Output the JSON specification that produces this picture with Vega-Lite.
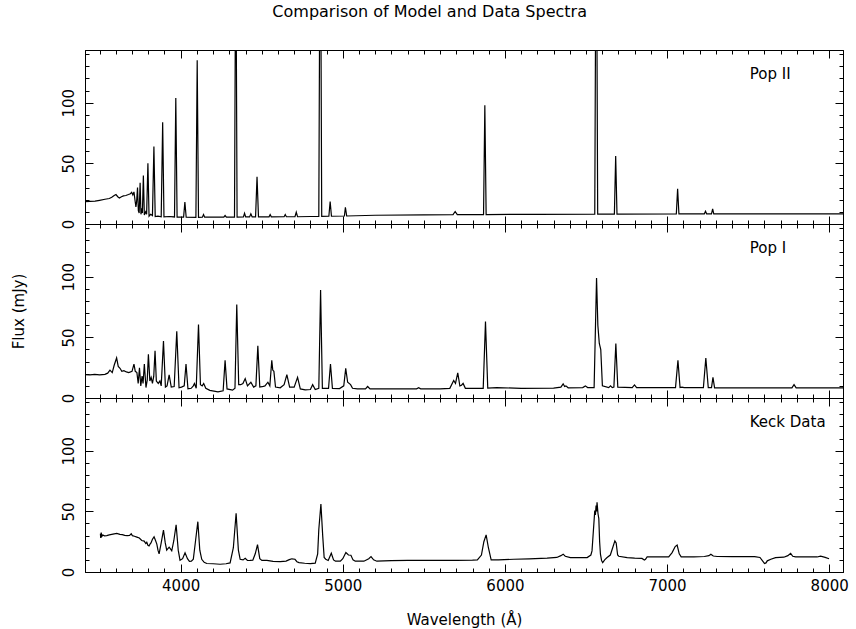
{
"$schema": "https://vega.github.io/schema/vega-lite/v6.json",
"autosize": {"type": "pad"},
"padding": {"left": 10, "top": 4, "right": 12, "bottom": 0},
"spacing": 0,
"bounds": "flush",
"title": {"text": "Comparison of Model and Data Spectra", "anchor": "middle", "offset": 29, "fontSize": 16, "fontWeight": "normal", "font": "DejaVu Sans", "color": "black"},
"config": {
  "view": {"stroke": "black", "strokeWidth": 1},
  "axis": {"domainColor": "black", "tickColor": "black", "labelColor": "black", "titleColor": "black", "labelFont": "DejaVu Sans", "titleFont": "DejaVu Sans", "labelFontSize": 15, "titleFontSize": 15, "titleFontWeight": "normal", "grid": false, "tickWidth": 1, "domainWidth": 1}
},
"datasets": {
"labels": [
  {"panel": "Pop II", "w": 7510, "f": 124},
  {"panel": "Pop I", "w": 7510, "f": 124},
  {"panel": "Keck Data", "w": 7510, "f": 124}
],
"pop2": [
{"w":3410,"f":18.5},{"w":3440,"f":18.6},{"w":3472,"f":18.8},{"w":3500,"f":19.5},{"w":3533,"f":20.4},{"w":3560,"f":21.0},{"w":3575,"f":22.0},{"w":3590,"f":23.5},{"w":3601,"f":24.3},{"w":3612,"f":22.5},{"w":3622,"f":21.5},{"w":3635,"f":22.5},{"w":3647,"f":23.2},{"w":3662,"f":23.5},{"w":3678,"f":24.3},{"w":3690,"f":25.0},{"w":3698,"f":26.2},{"w":3705,"f":24.0},{"w":3712,"f":26.5},{"w":3718,"f":20},{"w":3724,"f":14},{"w":3728,"f":18},{"w":3734,"f":30},{"w":3739,"f":11},{"w":3744,"f":9},{"w":3750,"f":34},{"w":3755,"f":8},{"w":3760,"f":13},{"w":3764,"f":9},{"w":3770,"f":40},{"w":3776,"f":7.5},{"w":3784,"f":10},{"w":3790,"f":8},{"w":3798,"f":50},{"w":3805,"f":6.5},{"w":3815,"f":8},{"w":3826,"f":7},{"w":3835,"f":64},{"w":3843,"f":6.2},{"w":3860,"f":6.5},{"w":3880,"f":6.0},{"w":3889,"f":84},{"w":3897,"f":5.8},{"w":3930,"f":6.2},{"w":3962,"f":5.8},{"w":3970,"f":104},{"w":3978,"f":5.6},{"w":4018,"f":5.6},{"w":4026,"f":18},{"w":4034,"f":5.6},{"w":4094,"f":5.5},{"w":4102,"f":135},{"w":4110,"f":5.5},{"w":4134,"f":5.6},{"w":4141,"f":7.8},{"w":4148,"f":5.6},{"w":4266,"f":5.6},{"w":4274,"f":7},{"w":4282,"f":5.6},{"w":4332,"f":5.6},{"w":4340,"f":250},{"w":4348,"f":5.6},{"w":4387,"f":5.8},{"w":4394,"f":8.9},{"w":4401,"f":5.8},{"w":4425,"f":5.8},{"w":4433,"f":8.4},{"w":4441,"f":5.8},{"w":4462,"f":5.8},{"w":4471,"f":39},{"w":4480,"f":5.8},{"w":4545,"f":5.9},{"w":4552,"f":7.8},{"w":4559,"f":5.9},{"w":4638,"f":6.0},{"w":4645,"f":7.8},{"w":4652,"f":6.0},{"w":4705,"f":6.0},{"w":4713,"f":9.7},{"w":4721,"f":6.0},{"w":4800,"f":6.2},{"w":4852,"f":6.3},{"w":4861,"f":300},{"w":4870,"f":6.3},{"w":4914,"f":6.4},{"w":4922,"f":18.5},{"w":4930,"f":6.4},{"w":5010,"f":6.6},{"w":5016,"f":13.8},{"w":5024,"f":6.6},{"w":5200,"f":7.2},{"w":5500,"f":7.5},{"w":5680,"f":7.7},{"w":5693,"f":10.3},{"w":5706,"f":7.7},{"w":5868,"f":7.8},{"w":5876,"f":98},{"w":5884,"f":7.8},{"w":6200,"f":8.0},{"w":6554,"f":8.2},{"w":6563,"f":300},{"w":6572,"f":8.2},{"w":6675,"f":8.2},{"w":6683,"f":56},{"w":6691,"f":8.2},{"w":7057,"f":8.3},{"w":7065,"f":29},{"w":7073,"f":8.3},{"w":7230,"f":8.4},{"w":7237,"f":10.5},{"w":7244,"f":8.4},{"w":7274,"f":8.4},{"w":7281,"f":12.5},{"w":7288,"f":8.4},{"w":8085,"f":8.4}
],
"pop1": [
{"w":3410,"f":19.3},{"w":3440,"f":19.0},{"w":3470,"f":19.5},{"w":3500,"f":19.0},{"w":3533,"f":19.5},{"w":3550,"f":20.5},{"w":3564,"f":23.0},{"w":3578,"f":21.0},{"w":3590,"f":27.0},{"w":3605,"f":33.0},{"w":3615,"f":26.0},{"w":3626,"f":24.5},{"w":3637,"f":22.0},{"w":3650,"f":22.5},{"w":3665,"f":21.5},{"w":3680,"f":21.0},{"w":3700,"f":22.0},{"w":3712,"f":28.0},{"w":3720,"f":22.0},{"w":3730,"f":21.0},{"w":3738,"f":12.0},{"w":3746,"f":25.0},{"w":3754,"f":10.0},{"w":3762,"f":18.0},{"w":3768,"f":12.0},{"w":3776,"f":28.0},{"w":3786,"f":8.6},{"w":3794,"f":15},{"w":3801,"f":36.0},{"w":3810,"f":14.0},{"w":3818,"f":17.0},{"w":3826,"f":12.0},{"w":3834,"f":18},{"w":3842,"f":39.0},{"w":3850,"f":14.0},{"w":3862,"f":12.0},{"w":3872,"f":14},{"w":3880,"f":10},{"w":3894,"f":47.0},{"w":3906,"f":9.0},{"w":3916,"f":10},{"w":3929,"f":19.0},{"w":3942,"f":9.0},{"w":3960,"f":9.5},{"w":3976,"f":55.0},{"w":3990,"f":8.4},{"w":4005,"f":9},{"w":4022,"f":10},{"w":4033,"f":28.0},{"w":4045,"f":7.5},{"w":4065,"f":8},{"w":4078,"f":10},{"w":4085,"f":12.0},{"w":4096,"f":8},{"w":4110,"f":60.5},{"w":4122,"f":11.0},{"w":4133,"f":10},{"w":4142,"f":12.0},{"w":4155,"f":8},{"w":4180,"f":6.3},{"w":4230,"f":5.0},{"w":4262,"f":6},{"w":4274,"f":31.0},{"w":4286,"f":7.5},{"w":4320,"f":6.5},{"w":4335,"f":8},{"w":4346,"f":77.0},{"w":4358,"f":11.0},{"w":4370,"f":11},{"w":4384,"f":12},{"w":4398,"f":16.0},{"w":4412,"f":10.0},{"w":4433,"f":13.0},{"w":4450,"f":9.0},{"w":4464,"f":10},{"w":4476,"f":43.0},{"w":4488,"f":9.0},{"w":4510,"f":9.6},{"w":4520,"f":10},{"w":4538,"f":13.0},{"w":4550,"f":10.0},{"w":4562,"f":31.0},{"w":4568,"f":23.0},{"w":4575,"f":22},{"w":4585,"f":9.0},{"w":4614,"f":8.4},{"w":4638,"f":11},{"w":4655,"f":19.3},{"w":4672,"f":9.0},{"w":4700,"f":9},{"w":4721,"f":17.0},{"w":4738,"f":7.5},{"w":4768,"f":6.7},{"w":4800,"f":7},{"w":4814,"f":11.0},{"w":4830,"f":7.0},{"w":4852,"f":8},{"w":4863,"f":89.0},{"w":4874,"f":8.0},{"w":4912,"f":8},{"w":4924,"f":28.0},{"w":4936,"f":8.0},{"w":4980,"f":7.8},{"w":5006,"f":10},{"w":5018,"f":24.4},{"w":5030,"f":13.0},{"w":5048,"f":11.0},{"w":5060,"f":8},{"w":5090,"f":7.5},{"w":5140,"f":7.6},{"w":5153,"f":9.5},{"w":5168,"f":7.5},{"w":5300,"f":7.5},{"w":5455,"f":7.6},{"w":5468,"f":8.5},{"w":5480,"f":7.6},{"w":5600,"f":7.6},{"w":5660,"f":8.0},{"w":5684,"f":14.4},{"w":5695,"f":12.0},{"w":5709,"f":20.8},{"w":5722,"f":9.9},{"w":5732,"f":10.5},{"w":5742,"f":12.0},{"w":5756,"f":8.0},{"w":5866,"f":8.0},{"w":5880,"f":63.0},{"w":5894,"f":8.2},{"w":5950,"f":8.5},{"w":6100,"f":8.0},{"w":6300,"f":8.2},{"w":6345,"f":9.0},{"w":6359,"f":11.7},{"w":6368,"f":9.5},{"w":6376,"f":10},{"w":6390,"f":8.4},{"w":6480,"f":8.6},{"w":6496,"f":10.0},{"w":6510,"f":8.6},{"w":6550,"f":8.6},{"w":6565,"f":99.0},{"w":6573,"f":60},{"w":6582,"f":45.0},{"w":6591,"f":40},{"w":6601,"f":10.0},{"w":6640,"f":8.6},{"w":6651,"f":10.0},{"w":6662,"f":8.6},{"w":6672,"f":9},{"w":6684,"f":45.0},{"w":6696,"f":9.0},{"w":6785,"f":8.6},{"w":6799,"f":10.8},{"w":6812,"f":8.6},{"w":7052,"f":8.6},{"w":7067,"f":31.0},{"w":7080,"f":8.6},{"w":7092,"f":9.0},{"w":7105,"f":8.5},{"w":7224,"f":8.6},{"w":7239,"f":33.0},{"w":7254,"f":8.6},{"w":7274,"f":8.6},{"w":7283,"f":17.0},{"w":7293,"f":8.4},{"w":7600,"f":8.4},{"w":7770,"f":8.4},{"w":7783,"f":11.0},{"w":7796,"f":8.4},{"w":8085,"f":8.4}
],
"keck": [
{"w":3505,"f":31.5},{"w":3507,"f":28.0},{"w":3510,"f":32.5},{"w":3514,"f":29.5},{"w":3520,"f":30.5},{"w":3530,"f":29.8},{"w":3544,"f":30.0},{"w":3560,"f":30.6},{"w":3575,"f":31.0},{"w":3590,"f":31.4},{"w":3606,"f":31.8},{"w":3625,"f":31.0},{"w":3640,"f":30.8},{"w":3655,"f":30.2},{"w":3670,"f":30.0},{"w":3685,"f":30.2},{"w":3695,"f":31.5},{"w":3702,"f":30.0},{"w":3715,"f":29.5},{"w":3730,"f":28.8},{"w":3745,"f":28.0},{"w":3760,"f":26.0},{"w":3775,"f":25.5},{"w":3785,"f":23.5},{"w":3791,"f":24.5},{"w":3798,"f":22},{"w":3805,"f":21.5},{"w":3811,"f":23},{"w":3817,"f":24.0},{"w":3826,"f":27},{"w":3836,"f":29.0},{"w":3845,"f":26},{"w":3853,"f":23.0},{"w":3860,"f":18},{"w":3867,"f":15.0},{"w":3880,"f":24},{"w":3894,"f":34.5},{"w":3905,"f":24},{"w":3914,"f":18.0},{"w":3920,"f":19},{"w":3929,"f":20.5},{"w":3937,"f":19},{"w":3945,"f":17.5},{"w":3958,"f":26},{"w":3972,"f":39.0},{"w":3985,"f":18},{"w":3996,"f":9.6},{"w":4012,"f":11},{"w":4027,"f":15.8},{"w":4042,"f":11},{"w":4054,"f":8.8},{"w":4066,"f":9},{"w":4078,"f":10.5},{"w":4092,"f":26},{"w":4106,"f":41.5},{"w":4118,"f":18},{"w":4130,"f":10.5},{"w":4145,"f":8},{"w":4161,"f":7.0},{"w":4200,"f":6.8},{"w":4243,"f":6.4},{"w":4280,"f":6.8},{"w":4305,"f":7.5},{"w":4325,"f":20},{"w":4342,"f":48.4},{"w":4356,"f":18},{"w":4367,"f":10.5},{"w":4385,"f":10},{"w":4398,"f":11.3},{"w":4412,"f":9.5},{"w":4428,"f":9.6},{"w":4445,"f":9.8},{"w":4460,"f":15},{"w":4474,"f":22.5},{"w":4488,"f":11},{"w":4501,"f":9.6},{"w":4532,"f":9.6},{"w":4570,"f":8.8},{"w":4614,"f":8.6},{"w":4650,"f":9},{"w":4670,"f":10.2},{"w":4686,"f":10.9},{"w":4705,"f":10.5},{"w":4717,"f":8.5},{"w":4730,"f":7.7},{"w":4765,"f":7.2},{"w":4800,"f":6.9},{"w":4830,"f":7.3},{"w":4845,"f":15},{"w":4852,"f":35},{"w":4865,"f":56.0},{"w":4876,"f":30},{"w":4885,"f":12},{"w":4895,"f":10.5},{"w":4910,"f":9.5},{"w":4929,"f":15.5},{"w":4943,"f":10},{"w":4955,"f":8.9},{"w":4985,"f":8.9},{"w":5000,"f":11},{"w":5019,"f":16.0},{"w":5035,"f":14},{"w":5050,"f":13.8},{"w":5063,"f":10},{"w":5077,"f":8.9},{"w":5130,"f":8.9},{"w":5160,"f":11},{"w":5174,"f":12.7},{"w":5190,"f":10},{"w":5210,"f":8.9},{"w":5300,"f":9.3},{"w":5400,"f":9.6},{"w":5550,"f":9.6},{"w":5700,"f":9.6},{"w":5800,"f":9.8},{"w":5830,"f":10.0},{"w":5855,"f":14},{"w":5870,"f":25},{"w":5884,"f":30.6},{"w":5898,"f":20},{"w":5915,"f":10.0},{"w":5960,"f":10},{"w":6055,"f":10.5},{"w":6150,"f":10.8},{"w":6260,"f":11.4},{"w":6320,"f":12},{"w":6345,"f":13.5},{"w":6359,"f":14.7},{"w":6372,"f":13},{"w":6404,"f":11.9},{"w":6460,"f":11.8},{"w":6507,"f":11.9},{"w":6530,"f":14},{"w":6537,"f":17.4},{"w":6546,"f":35},{"w":6554,"f":50.6},{"w":6558,"f":47},{"w":6562,"f":54.8},{"w":6565,"f":50},{"w":6568,"f":57.5},{"w":6574,"f":48},{"w":6579,"f":44.0},{"w":6584,"f":25},{"w":6589,"f":14.7},{"w":6596,"f":9.5},{"w":6603,"f":7.7},{"w":6615,"f":10},{"w":6630,"f":11.9},{"w":6650,"f":14},{"w":6665,"f":20.2},{"w":6678,"f":25.7},{"w":6686,"f":24},{"w":6695,"f":14},{"w":6702,"f":13.0},{"w":6754,"f":11.9},{"w":6800,"f":11.4},{"w":6845,"f":11.2},{"w":6860,"f":9.8},{"w":6867,"f":10.5},{"w":6877,"f":12.4},{"w":6959,"f":12.5},{"w":7010,"f":12.5},{"w":7031,"f":16.0},{"w":7050,"f":21},{"w":7062,"f":22.2},{"w":7075,"f":15},{"w":7087,"f":12.5},{"w":7165,"f":12.5},{"w":7230,"f":12.8},{"w":7258,"f":13.5},{"w":7270,"f":14.7},{"w":7285,"f":13.2},{"w":7309,"f":12.8},{"w":7400,"f":12.6},{"w":7474,"f":12.8},{"w":7540,"f":12.6},{"w":7573,"f":12.0},{"w":7590,"f":9},{"w":7601,"f":7.0},{"w":7610,"f":7.5},{"w":7618,"f":9.2},{"w":7640,"f":10.5},{"w":7669,"f":11.9},{"w":7720,"f":12.2},{"w":7745,"f":13.5},{"w":7762,"f":15.4},{"w":7775,"f":13},{"w":7793,"f":12.5},{"w":7840,"f":12.4},{"w":7885,"f":12.5},{"w":7925,"f":12.4},{"w":7947,"f":13.0},{"w":7975,"f":12},{"w":7999,"f":10.9}
]
},
"vconcat": [
{
  "width": 758, "height": 174,
  "layer": [
    {"data": {"name": "pop2"}, "mark": {"type": "line", "color": "black", "strokeWidth": 1.2, "clip": true},
     "encoding": {
       "x": {"field": "w", "type": "quantitative", "scale": {"domain": [3410, 8085], "nice": false, "zero": false},
             "axis": {"orient": "bottom", "title": null, "labels": false, "values": [3500,3600,3700,3800,3900,4000,4100,4200,4300,4400,4500,4600,4700,4800,4900,5000,5100,5200,5300,5400,5500,5600,5700,5800,5900,6000,6100,6200,6300,6400,6500,6600,6700,6800,6900,7000,7100,7200,7300,7400,7500,7600,7700,7800,7900,8000], "tickSize": {"condition": {"test": "datum.value % 1000 === 0", "value": -8}, "value": -4}}},
       "y": {"field": "f", "type": "quantitative", "scale": {"domain": [0, 143.5], "nice": false},
             "axis": {"orient": "left", "title": null, "values": [0,10,20,30,40,50,60,70,80,90,100,110,120,130,140], "labelExpr": "datum.value % 50 === 0 ? datum.label : ''", "labelAngle": -90, "labelAlign": "center", "labelBaseline": "bottom", "labelPadding": 17, "tickSize": {"condition": {"test": "datum.value % 50 === 0", "value": -8}, "value": -4}}}
     }},
    {"data": {"name": "labels"}, "transform": [{"filter": "datum.panel === 'Pop II'"}],
     "mark": {"type": "text", "align": "left", "baseline": "middle", "fontSize": 15, "font": "DejaVu Sans", "color": "black"},
     "encoding": {
       "x": {"field": "w", "type": "quantitative", "axis": {"orient": "top", "title": null, "labels": false, "values": [3500,3600,3700,3800,3900,4000,4100,4200,4300,4400,4500,4600,4700,4800,4900,5000,5100,5200,5300,5400,5500,5600,5700,5800,5900,6000,6100,6200,6300,6400,6500,6600,6700,6800,6900,7000,7100,7200,7300,7400,7500,7600,7700,7800,7900,8000], "tickSize": {"condition": {"test": "datum.value % 1000 === 0", "value": -8}, "value": -4}}},
       "y": {"field": "f", "type": "quantitative", "axis": {"orient": "right", "title": null, "labels": false, "values": [0,10,20,30,40,50,60,70,80,90,100,110,120,130,140], "tickSize": {"condition": {"test": "datum.value % 50 === 0", "value": -8}, "value": -4}}},
       "text": {"field": "panel"}
     }}
  ],
  "resolve": {"axis": {"x": "independent", "y": "independent"}}
},
{
  "width": 758, "height": 174,
  "layer": [
    {"data": {"name": "pop1"}, "mark": {"type": "line", "color": "black", "strokeWidth": 1.2, "clip": true},
     "encoding": {
       "x": {"field": "w", "type": "quantitative", "scale": {"domain": [3410, 8085], "nice": false, "zero": false},
             "axis": {"orient": "bottom", "title": null, "labels": false, "values": [3500,3600,3700,3800,3900,4000,4100,4200,4300,4400,4500,4600,4700,4800,4900,5000,5100,5200,5300,5400,5500,5600,5700,5800,5900,6000,6100,6200,6300,6400,6500,6600,6700,6800,6900,7000,7100,7200,7300,7400,7500,7600,7700,7800,7900,8000], "tickSize": {"condition": {"test": "datum.value % 1000 === 0", "value": -8}, "value": -4}}},
       "y": {"field": "f", "type": "quantitative", "scale": {"domain": [0, 143.5], "nice": false},
             "axis": {"orient": "left", "title": "Flux (mJy)", "titlePadding": 35, "values": [0,10,20,30,40,50,60,70,80,90,100,110,120,130,140], "labelExpr": "datum.value % 50 === 0 ? datum.label : ''", "labelAngle": -90, "labelAlign": "center", "labelBaseline": "bottom", "labelPadding": 17, "tickSize": {"condition": {"test": "datum.value % 50 === 0", "value": -8}, "value": -4}}}
     }},
    {"data": {"name": "labels"}, "transform": [{"filter": "datum.panel === 'Pop I'"}],
     "mark": {"type": "text", "align": "left", "baseline": "middle", "fontSize": 15, "font": "DejaVu Sans", "color": "black"},
     "encoding": {
       "x": {"field": "w", "type": "quantitative", "axis": {"orient": "top", "title": null, "labels": false, "values": [3500,3600,3700,3800,3900,4000,4100,4200,4300,4400,4500,4600,4700,4800,4900,5000,5100,5200,5300,5400,5500,5600,5700,5800,5900,6000,6100,6200,6300,6400,6500,6600,6700,6800,6900,7000,7100,7200,7300,7400,7500,7600,7700,7800,7900,8000], "tickSize": {"condition": {"test": "datum.value % 1000 === 0", "value": -8}, "value": -4}}},
       "y": {"field": "f", "type": "quantitative", "axis": {"orient": "right", "title": null, "labels": false, "values": [0,10,20,30,40,50,60,70,80,90,100,110,120,130,140], "tickSize": {"condition": {"test": "datum.value % 50 === 0", "value": -8}, "value": -4}}},
       "text": {"field": "panel"}
     }}
  ],
  "resolve": {"axis": {"x": "independent", "y": "independent"}}
},
{
  "width": 758, "height": 174,
  "layer": [
    {"data": {"name": "keck"}, "mark": {"type": "line", "color": "black", "strokeWidth": 1.2, "clip": true},
     "encoding": {
       "x": {"field": "w", "type": "quantitative", "scale": {"domain": [3410, 8085], "nice": false, "zero": false},
             "axis": {"orient": "bottom", "title": "Wavelength (Å)", "titlePadding": 19, "format": "d", "labelPadding": 14, "labelExpr": "datum.value % 1000 === 0 ? datum.label : ''", "values": [3500,3600,3700,3800,3900,4000,4100,4200,4300,4400,4500,4600,4700,4800,4900,5000,5100,5200,5300,5400,5500,5600,5700,5800,5900,6000,6100,6200,6300,6400,6500,6600,6700,6800,6900,7000,7100,7200,7300,7400,7500,7600,7700,7800,7900,8000], "tickSize": {"condition": {"test": "datum.value % 1000 === 0", "value": -8}, "value": -4}}},
       "y": {"field": "f", "type": "quantitative", "scale": {"domain": [0, 143.5], "nice": false},
             "axis": {"orient": "left", "title": null, "values": [0,10,20,30,40,50,60,70,80,90,100,110,120,130,140], "labelExpr": "datum.value % 50 === 0 ? datum.label : ''", "labelAngle": -90, "labelAlign": "center", "labelBaseline": "bottom", "labelPadding": 17, "tickSize": {"condition": {"test": "datum.value % 50 === 0", "value": -8}, "value": -4}}}
     }},
    {"data": {"name": "labels"}, "transform": [{"filter": "datum.panel === 'Keck Data'"}],
     "mark": {"type": "text", "align": "left", "baseline": "middle", "fontSize": 15, "font": "DejaVu Sans", "color": "black"},
     "encoding": {
       "x": {"field": "w", "type": "quantitative", "axis": {"orient": "top", "title": null, "labels": false, "values": [3500,3600,3700,3800,3900,4000,4100,4200,4300,4400,4500,4600,4700,4800,4900,5000,5100,5200,5300,5400,5500,5600,5700,5800,5900,6000,6100,6200,6300,6400,6500,6600,6700,6800,6900,7000,7100,7200,7300,7400,7500,7600,7700,7800,7900,8000], "tickSize": {"condition": {"test": "datum.value % 1000 === 0", "value": -8}, "value": -4}}},
       "y": {"field": "f", "type": "quantitative", "axis": {"orient": "right", "title": null, "labels": false, "values": [0,10,20,30,40,50,60,70,80,90,100,110,120,130,140], "tickSize": {"condition": {"test": "datum.value % 50 === 0", "value": -8}, "value": -4}}},
       "text": {"field": "panel"}
     }}
  ],
  "resolve": {"axis": {"x": "independent", "y": "independent"}}
}
]
}
